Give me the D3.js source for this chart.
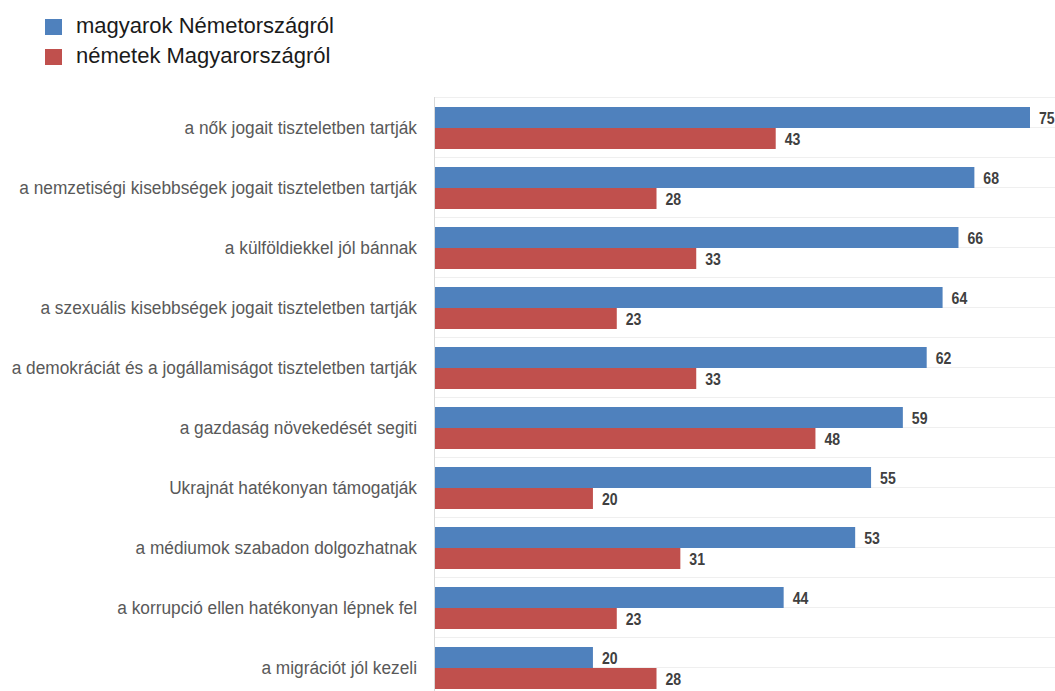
<!DOCTYPE html>
<html>
<head>
<meta charset="utf-8">
<script src="https://cdn.jsdelivr.net/npm/d3@7"></script>
<style>
  body { margin: 0; background: #fff; }
</style>
</head>
<body>
<script>
// category labels, top to bottom
const categories = [
  "a nők jogait tiszteletben tartják",
  "a nemzetiségi kisebbségek jogait tiszteletben tartják",
  "a külföldiekkel jól bánnak",
  "a szexuális kisebbségek jogait tiszteletben tartják",
  "a demokráciát és a jogállamiságot tiszteletben tartják",
  "a gazdaság növekedését segiti",
  "Ukrajnát hatékonyan támogatják",
  "a médiumok szabadon dolgozhatnak",
  "a korrupció ellen hatékonyan lépnek fel",
  "a migrációt jól kezeli"
];
const seriesNames = ["magyarok Németországról", "németek Magyarországról"];
const hunAboutGer = [75, 68, 66, 64, 62, 59, 55, 53, 44, 20];
const gerAboutHun = [43, 28, 33, 23, 33, 48, 20, 31, 23, 28];
const colors = ["#4F81BD", "#C0504D"];

const width = 1055, height = 691;
const svg = d3.select("body").append("svg")
  .attr("width", width)
  .attr("height", height)
  .style("font-family", "'Liberation Sans', Arial, sans-serif");

const x = d3.scaleLinear().domain([0, 75]).range([434, 1030]);
const y = d3.scaleBand().domain(categories).range([97, 697]);
// two bars per category, 21px each, starting 10px below the band top
const sub = d3.scaleBand().domain([0, 1]).range([10, 52]);

// faint horizontal gridlines every half band
const gridYs = [];
categories.forEach(c => { gridYs.push(y(c)); gridYs.push(y(c) + y.bandwidth() / 2); });
svg.append("g").selectAll("line")
  .data(gridYs)
  .join("line")
  .attr("x1", 434).attr("x2", width)
  .attr("y1", d => Math.round(d) + 0.5).attr("y2", d => Math.round(d) + 0.5)
  .attr("stroke", "#efefef");

// y axis line
svg.append("line")
  .attr("x1", 434.5).attr("x2", 434.5)
  .attr("y1", 97).attr("y2", height)
  .attr("stroke", "#d9d9d9");

const rows = categories.map((c, i) => ({ c, vals: [hunAboutGer[i], gerAboutHun[i]] }));

const row = svg.append("g").selectAll("g")
  .data(rows)
  .join("g")
  .attr("transform", d => `translate(0,${y(d.c)})`);

// category labels: narrow look, so squeeze horizontally
row.append("text")
  .attr("transform", `translate(417,${y.bandwidth() / 2 + 7}) scale(0.91,1)`)
  .attr("text-anchor", "end")
  .attr("fill", "#595959")
  .style("font-size", "19px")
  .text(d => d.c);

const bar = row.selectAll("g.bar")
  .data(d => d.vals.map((v, k) => ({ v, k })))
  .join("g").attr("class", "bar");

bar.append("rect")
  .attr("x", x(0) + 1)
  .attr("y", d => sub(d.k))
  .attr("width", d => x(d.v) - x(0) - 1)
  .attr("height", sub.bandwidth())
  .attr("fill", d => colors[d.k]);

bar.append("text")
  .attr("transform", d => `translate(${x(d.v) + 9},${sub(d.k) + sub.bandwidth() / 2 + 6}) scale(0.88,1)`)
  .attr("fill", "#404040")
  .style("font-size", "16px")
  .style("font-weight", "bold")
  .text(d => d.v);

// legend
const legend = svg.append("g").selectAll("g")
  .data(seriesNames)
  .join("g")
  .attr("transform", (d, i) => `translate(45,${19 + i * 30})`);

legend.append("rect")
  .attr("width", 17).attr("height", 16)
  .attr("fill", (d, i) => colors[i]);

legend.append("text")
  .attr("x", 31)
  .attr("y", 13.5)
  .attr("fill", "#1a1a1a")
  .style("font-size", "22px")
  .text(d => d);
</script>
</body>
</html>
